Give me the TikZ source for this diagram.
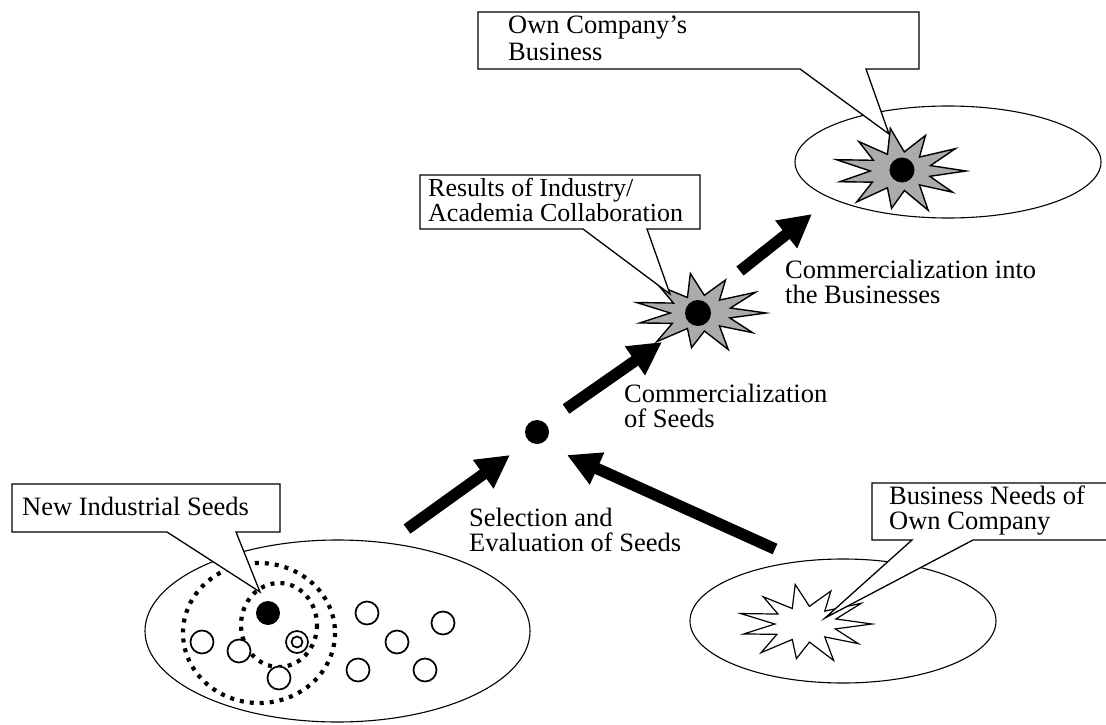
\documentclass[tikz,border=0pt]{standalone}
\usepackage{fontspec}
\setmainfont{Liberation Serif}
\usetikzlibrary{arrows.meta}

\tikzset{
  bigarrow/.style={line width=11.5pt, -{Triangle[length=33pt,width=33pt]}},
  region/.style={draw=black, line width=1.1pt},
  callout/.style={draw=black, line width=1.3pt, fill=white, line join=miter},
  lbl/.style={anchor=base west, align=left, inner sep=0pt, font=\fontsize{26.5}{25}\selectfont},
  seed/.style={draw=black, line width=1.7pt, fill=white},
  blackdot/.style={fill=black},
  dottedring/.style={draw=black, line width=4.2pt, dash pattern=on 4pt off 6pt},
  burstshade/.style={draw=black, line width=1.4pt, fill=black!33},
  burstwhite/.style={draw=black, line width=1.2pt, fill=white},
  burst/.pic={
    \path[pic actions] (0:1) -- (16:0.47) -- (33:0.95) -- (49:0.45) -- (66:1.05)
      -- (82:0.48) -- (98:0.92) -- (115:0.45) -- (131:1) -- (147:0.5) -- (164:0.95)
      -- (180:0.45) -- (196:1) -- (213:0.48) -- (229:0.95) -- (245:0.45) -- (262:1.05)
      -- (278:0.47) -- (294:0.95) -- (311:0.45) -- (327:1) -- (344:0.48) -- cycle;
  }
}

\begin{document}
\begin{tikzpicture}[x=1pt,y=-1pt]
\useasboundingbox (0,0) rectangle (1106,725);

% regions
\draw[region] (337.5,631) ellipse [x radius=192.5, y radius=91];
\draw[region] (843,621) ellipse [x radius=153, y radius=62];
\draw[region] (948,162) ellipse [x radius=153, y radius=56];

% seeds region
\draw[dottedring] (259,633) ellipse [x radius=76, y radius=70];
\draw[dottedring] (279,625) ellipse [x radius=38, y radius=42];
\fill[blackdot] (268,613) circle (12);
\draw[seed] (202,642) circle (11.5);
\draw[seed] (239,651) circle (11.5);
\draw[seed] (279,678) circle (11.5);
\draw[seed] (297,642) circle (11);
\draw[seed] (297,642) circle (5.5);
\draw[seed] (367,613) circle (11.5);
\draw[seed] (443,623) circle (11.5);
\draw[seed] (397,642) circle (11.5);
\draw[seed] (358,670) circle (11.5);
\draw[seed] (425,670) circle (11.5);

% bursts
\pic[burstwhite, xscale=67, yscale=38] at (805,624) {burst};
\pic[burstshade, xscale=66, yscale=38] at (700,313) {burst};
\pic[burstshade, xscale=66, yscale=41] at (900,171) {burst};
\fill[blackdot] (698,313) circle (13);
\fill[blackdot] (902,170) circle (12.5);

% centre dot
\node[circle, fill=black, minimum size=24pt, inner sep=0pt] (mid) at (537,432) {};

% callouts
\coordinate (ocTip) at (889,134);
\draw[callout] (800,69) -- (478,69) -- (478,12) -- (919,12) -- (919,69) -- (866,69) -- (ocTip) -- cycle;
\node[lbl, font=\fontsize{26.5}{28}\selectfont] (ocText) at (508,61) {Own Company’s\\Business};

\coordinate (rsTip) at (670,294);
\draw[callout] (583,229) -- (420,229) -- (420,175) -- (700,175) -- (700,229) -- (647,229) -- (rsTip) -- cycle;
\node[lbl, font=\fontsize{26}{20.5}\selectfont] (rsText) at (428,221) {Results of Industry/\\Academia Collaboration};

\coordinate (nsTip) at (260,592);
\draw[callout] (167,532) -- (12,532) -- (12,484) -- (280,484) -- (280,532) -- (236,532) -- (nsTip) -- cycle;
\node[lbl] (nsText) at (22,515) {New Industrial Seeds};

\coordinate (bnTip) at (825,618);
\fill[white] (912,540) -- (872,540) -- (872,483) -- (1106,483) -- (1106,540) -- (973,540) -- (bnTip) -- cycle;
\draw[callout, fill=none] (1106,540) -- (973,540) -- (bnTip) -- (912,540) -- (872,540) -- (872,483) -- (1106,483);
\node[lbl] (bnText) at (889,529) {Business Needs of\\Own Company};

% arrows
\coordinate (a1s) at (407,529);
\coordinate (a1e) at (510,455);
\draw[bigarrow] (a1s) -- (a1e);
\coordinate (a2s) at (775,549);
\coordinate (a2e) at (567,455);
\draw[bigarrow] (a2s) -- (a2e);
\coordinate (a3s) at (566,409);
\coordinate (a3e) at (662,342);
\draw[bigarrow] (a3s) -- (a3e);
\coordinate (a4s) at (740,271);
\coordinate (a4e) at (812,214);
\draw[bigarrow] (a4s) -- (a4e);

% labels
\node[lbl] (lblBiz) at (785,303) {Commercialization into\\the Businesses};
\node[lbl] (lblSeeds) at (624,427) {Commercialization\\of Seeds};
\node[lbl] (lblSel) at (469,551) {Selection and\\Evaluation of Seeds};
\end{tikzpicture}
\end{document}
